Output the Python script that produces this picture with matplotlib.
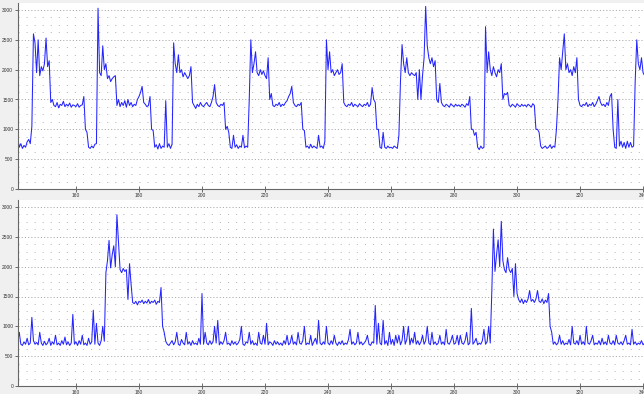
import numpy as np
import matplotlib
matplotlib.use("Agg")
import matplotlib.pyplot as plt

# ==========================
# DATA (one list per 10-unit block, samples every 0.5)
# ==========================

top_140 = [800, 760, 820, 850, 700, 760, 680, 730, 700, 790, 830, 760, 1050, 2600, 2450, 1950, 2500, 1900, 2050, 1980]
top_150 = [2100, 2530, 2050, 2150, 1450, 1500, 1400, 1380, 1450, 1360, 1420, 1400, 1470, 1380, 1420, 1390, 1440, 1370, 1410, 1400]
top_160 = [1380, 1430, 1370, 1400, 1410, 1550, 1000, 950, 700, 680, 720, 690, 750, 760, 3030, 1950, 1900, 2400, 2000, 2100]
top_170 = [1850, 1900, 1800, 1850, 1880, 1900, 1400, 1500, 1380, 1450, 1400, 1480, 1370, 1500, 1400, 1450, 1380, 1420, 1400, 1500]
top_180 = [1550, 1620, 1720, 1450, 1420, 1380, 1400, 1550, 1000, 980, 700, 740, 670, 760, 680, 720, 700, 1480, 700, 760]
top_190 = [680, 750, 2450, 2100, 1950, 2250, 1950, 2000, 1880, 1950, 1900, 1850, 1900, 2050, 1450, 1400, 1350, 1420, 1380, 1450]
top_200 = [1400, 1380, 1420, 1450, 1400, 1380, 1450, 1550, 1750, 1450, 1400, 1380, 1420, 1400, 1450, 1000, 1050, 950, 700, 680]
top_210 = [900, 700, 740, 680, 720, 700, 900, 690, 720, 700, 1500, 2500, 1950, 2100, 2300, 1950, 1900, 2000, 1920, 1980]
top_220 = [1900, 1850, 2200, 1500, 1600, 1400, 1380, 1420, 1400, 1450, 1380, 1420, 1400, 1450, 1480, 1550, 1600, 1720, 1450, 1400]
top_230 = [1380, 1420, 1400, 1450, 1000, 980, 700, 720, 680, 750, 690, 720, 700, 680, 900, 700, 720, 680, 800, 2500]
top_240 = [2000, 2300, 1950, 2000, 1900, 1950, 2000, 1920, 1950, 2100, 1450, 1400, 1380, 1420, 1400, 1450, 1380, 1420, 1400, 1380]
top_250 = [1430, 1400, 1380, 1420, 1400, 1450, 1380, 1420, 1700, 1500, 1450, 1000, 1000, 700, 680, 950, 700, 680, 720, 690]
top_260 = [700, 680, 720, 700, 680, 900, 1800, 2420, 2100, 1950, 2200, 1950, 1900, 1950, 1920, 1900, 1950, 1500, 2000, 1500]
top_270 = [1900, 2200, 3060, 2400, 2200, 2100, 2200, 2050, 2150, 1500, 1450, 1770, 1450, 1400, 1380, 1420, 1400, 1370, 1430, 1400]
top_280 = [1380, 1420, 1390, 1410, 1380, 1420, 1400, 1370, 1430, 1400, 1550, 1000, 1000, 900, 950, 700, 660, 720, 680, 700]
top_290 = [2720, 1950, 2300, 2000, 1900, 2050, 1950, 1880, 2000, 1950, 2100, 1500, 1600, 1580, 1620, 1400, 1380, 1420, 1400, 1370]
top_300 = [1430, 1400, 1380, 1420, 1390, 1410, 1380, 1420, 1400, 1370, 1430, 1400, 1000, 1000, 950, 720, 680, 700, 720, 680]
top_310 = [700, 740, 680, 720, 700, 1000, 1500, 2200, 2000, 2300, 2600, 2000, 2100, 1950, 2000, 1900, 2050, 1950, 2200, 1500]
top_320 = [1400, 1380, 1420, 1400, 1450, 1380, 1420, 1400, 1450, 1380, 1420, 1480, 1550, 1450, 1400, 1420, 1380, 1450, 1400, 1550]
top_330 = [1600, 1000, 700, 680, 1500, 720, 800, 700, 780, 680, 800, 700, 780, 700, 720, 1800, 2500, 2100, 2000, 2200]
top_340 = [1950, 1900, 1850]

bot_140 = [700, 720, 680, 760, 900, 700, 680, 740, 700, 800, 690, 720, 1150, 760, 700, 730, 690, 900, 720, 680]
bot_150 = [750, 690, 720, 800, 680, 740, 700, 850, 690, 720, 680, 760, 700, 820, 690, 740, 680, 720, 1200, 700]
bot_160 = [740, 680, 760, 700, 850, 690, 720, 680, 800, 700, 740, 1270, 700, 1050, 720, 680, 760, 1000, 750, 1900]
bot_170 = [2100, 2440, 1980, 2200, 2350, 2000, 2870, 2400, 1950, 1900, 1970, 1920, 1950, 1450, 2050, 1700, 1400, 1380, 1420, 1360]
bot_180 = [1420, 1400, 1440, 1380, 1420, 1390, 1450, 1380, 1420, 1400, 1440, 1370, 1420, 1400, 1650, 1000, 900, 750, 700, 680]
bot_190 = [720, 760, 690, 740, 900, 700, 680, 780, 720, 690, 900, 700, 740, 680, 760, 700, 720, 690, 800, 700]
bot_200 = [1550, 700, 900, 720, 690, 760, 700, 740, 1000, 720, 1100, 690, 740, 700, 760, 900, 700, 720, 680, 760]
bot_210 = [700, 740, 690, 720, 780, 1000, 700, 680, 740, 720, 900, 700, 760, 690, 720, 680, 900, 720, 700, 850]
bot_220 = [700, 1050, 690, 740, 720, 680, 760, 700, 740, 690, 720, 680, 760, 700, 850, 690, 720, 850, 700, 740]
bot_230 = [690, 900, 720, 700, 760, 1000, 690, 720, 700, 850, 680, 740, 800, 700, 1100, 720, 690, 740, 700, 1000]
bot_240 = [720, 690, 760, 700, 850, 720, 680, 740, 700, 760, 690, 720, 700, 780, 950, 700, 740, 690, 720, 900]
bot_250 = [700, 740, 690, 720, 760, 850, 700, 680, 740, 720, 1350, 700, 1050, 720, 690, 1100, 700, 760, 680, 900]
bot_260 = [700, 780, 680, 850, 720, 850, 690, 760, 1000, 700, 780, 1000, 690, 800, 720, 900, 700, 760, 690, 740]
bot_270 = [850, 700, 760, 1000, 720, 690, 900, 700, 740, 690, 720, 850, 700, 740, 690, 950, 720, 700, 760, 850]
bot_280 = [700, 720, 850, 690, 850, 720, 700, 760, 900, 690, 720, 1300, 700, 740, 800, 690, 720, 700, 760, 950]
bot_290 = [700, 740, 1000, 720, 1600, 2630, 1920, 2200, 2450, 2000, 2760, 2100, 1950, 1900, 2150, 1950, 1900, 1970, 1500, 2050]
bot_300 = [1550, 1450, 1400, 1460, 1380, 1440, 1400, 1460, 1600, 1420, 1450, 1400, 1460, 1600, 1420, 1400, 1460, 1380, 1440, 1400]
bot_310 = [1550, 1000, 900, 700, 740, 690, 720, 850, 700, 760, 690, 720, 700, 780, 690, 1000, 720, 700, 760, 690]
bot_320 = [850, 700, 740, 690, 1000, 720, 700, 760, 850, 690, 720, 700, 760, 690, 800, 700, 740, 690, 850, 720]
bot_330 = [700, 760, 690, 850, 720, 700, 740, 690, 760, 850, 700, 720, 690, 950, 700, 740, 690, 720, 700, 760]
bot_340 = [690, 720, 700]

top_blocks = [top_140, top_150, top_160, top_170, top_180, top_190, top_200,
              top_210, top_220, top_230, top_240, top_250, top_260, top_270,
              top_280, top_290, top_300, top_310, top_320, top_330, top_340]
bot_blocks = [bot_140, bot_150, bot_160, bot_170, bot_180, bot_190, bot_200,
              bot_210, bot_220, bot_230, bot_240, bot_250, bot_260, bot_270,
              bot_280, bot_290, bot_300, bot_310, bot_320, bot_330, bot_340]

x_ticks = [160, 180, 200, 220, 240, 260, 280, 300, 320, 340]
y_ticks = [0, 500, 1000, 1500, 2000, 2500, 3000]


def join_blocks(blocks, first=140, width=10, step=0.5):
    xs, ys = [], []
    for i, b in enumerate(blocks):
        xs.append(first + width * i + step * np.arange(len(b)))
        ys.append(np.array(b, dtype=float))
    return np.concatenate(xs), np.concatenate(ys)


# ==========================
# PLOT
# ==========================

plt.rcParams["lines.scale_dashes"] = False
plt.rcParams["font.family"] = ["Liberation Sans", "DejaVu Sans"]

fig = plt.figure(figsize=(6.44, 3.94), dpi=100, facecolor="#f0f0f0")

W, H = 644.0, 394.0
panels = [
    (top_blocks, 3, 189),
    (bot_blocks, 200, 386),
]

for blocks, y_top, y_bot in panels:
    ax = fig.add_axes([18 / W, 1 - y_bot / H, (W - 18) / W, (y_bot - y_top) / H])
    ax.set_facecolor("white")

    x, y = join_blocks(blocks)
    ax.plot(x, y, color="#2424ff", linewidth=0.75)

    ax.set_xlim(141.6, 340.3)
    ax.set_ylim(0, 3000 * (y_bot - y_top) / 179.0)

    ax.set_xticks(x_ticks)
    ax.set_yticks(y_ticks)
    ax.set_yticks(np.arange(125, 3001, 125), minor=True)
    ax.tick_params(axis="x", which="major", direction="inout", length=4,
                   width=0.6, color="#555555", labelsize=3.5,
                   labelcolor="#333333", pad=1)
    ax.tick_params(axis="y", which="major", direction="out", length=2.5,
                   width=0.6, color="#555555", labelsize=3.5,
                   labelcolor="#333333", pad=1)
    ax.tick_params(axis="y", which="minor", length=0)

    ax.grid(True, axis="y", which="major", color="#aaaaaa",
            linestyle=(0, (0.8, 1.5)), linewidth=0.7)
    ax.grid(True, axis="y", which="minor", color="#bbbbbb",
            linestyle=(0, (0.8, 5)), linewidth=0.7)
    ax.set_axisbelow(True)

    for side in ["top", "right"]:
        ax.spines[side].set_visible(False)
    for side in ["left", "bottom"]:
        ax.spines[side].set_color("#666666")
        ax.spines[side].set_linewidth(0.8)

fig.savefig("out.png", dpi=100, facecolor=fig.get_facecolor())
